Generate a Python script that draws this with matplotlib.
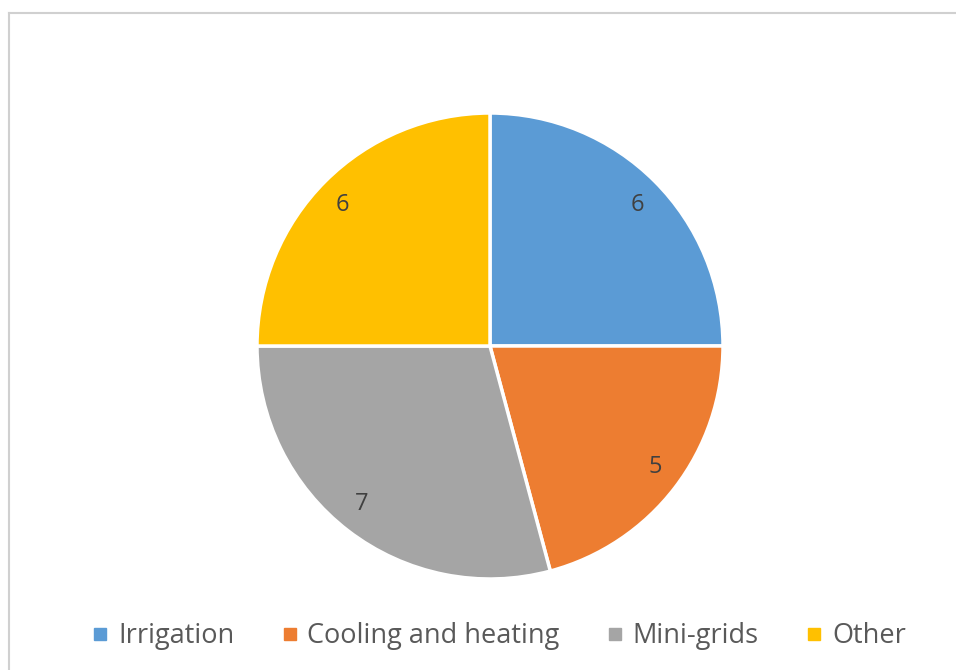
import matplotlib.pyplot as plt
from matplotlib.lines import Line2D

categories = ['Irrigation', 'Cooling and heating', 'Mini-grids', 'Other']
values = [6, 5, 7, 6]
colors = ['#5B9BD5', '#ED7D31', '#A5A5A5', '#FFC000']

plt.rcParams['font.family'] = ['Open Sans', 'DejaVu Sans']
text_color = '#595959'

fig = plt.figure(figsize=(9.56, 6.7), dpi=100)

# pie axes: centre (490, 346) px, radius ~232 px
r = 233
cx, cy = 490, 346
ax = fig.add_axes([(cx - r) / 956, (670 - cy - r) / 670, 2 * r / 956, 2 * r / 670])
wedges, texts = ax.pie(values, colors=colors, startangle=90, counterclock=False,
                       labels=[str(v) for v in values], labeldistance=0.855,
                       wedgeprops=dict(edgecolor='white', linewidth=2.5),
                       textprops=dict(fontsize=17, color='#404040'))
ax.set_aspect('auto')
ax.set_xlim(-1, 1)
ax.set_ylim(-1, 1)

# chart border (light grey frame)
fig.add_artist(Line2D([9 / 956, 1], [1 - 13 / 670, 1 - 13 / 670], color='#d0d0d0', lw=1.5))
fig.add_artist(Line2D([9 / 956, 9 / 956], [0, 1 - 13 / 670], color='#d0d0d0', lw=1.5))

handles = [Line2D([], [], marker='s', linestyle='none', markersize=8,
                  markerfacecolor=c, markeredgecolor=c) for c in colors]
fig.legend(handles, categories, loc='center', bbox_to_anchor=(497 / 956, 1 - 636 / 670),
           ncol=4, frameon=False, fontsize=19.5, labelcolor=text_color,
           handletextpad=0.2, columnspacing=1.6, handlelength=0.9)

fig.savefig('out.png', dpi=100, facecolor='white')
